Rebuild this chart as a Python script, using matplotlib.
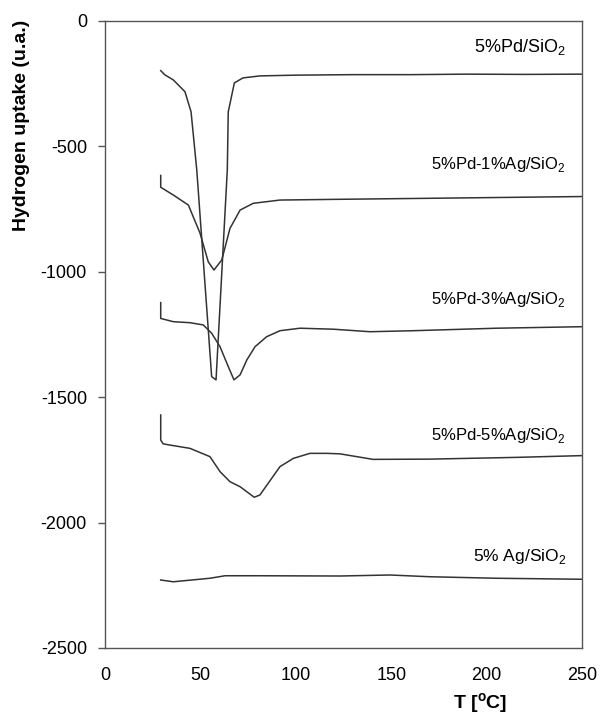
import matplotlib
matplotlib.use("Agg")
import matplotlib.pyplot as plt

plt.rcParams.update({
    "font.family": ["Liberation Sans", "DejaVu Sans"],
    "mathtext.fontset": "custom",
    "mathtext.rm": "Liberation Sans",
    "axes.unicode_minus": False,
    "font.size": 12,
})

LINHA = "#333333"
EIXO = "#555555"

# curvas TPR (T em oC, consumo de H2 em u.a.)
t_pd = [29.2, 31.4, 35.8, 41.9, 45.1, 48.1, 55.9, 58.2, 64.1, 64.6, 67.8, 72.3, 81.2, 100, 130, 160, 190, 220, 250]
v_pd = [-198, -215, -235, -282, -362, -594, -1418, -1431, -594, -362, -247, -227, -219, -216, -214, -214, -212, -213, -212]

t_ag1 = [29.2, 29.2, 35.8, 43.7, 49.8, 54.1, 57.1, 61.2, 65.5, 70.8, 77.7, 91.7, 123, 170, 250]
v_ag1 = [-616, -663, -694, -734, -846, -960, -993, -953, -827, -754, -727, -714, -711, -707, -700]

t_ag3 = [29.2, 29.2, 35.8, 44.5, 51.5, 55.9, 60.3, 64.6, 67.6, 70.8, 74.3, 78.6, 84.7, 91.7, 102.2, 119.7, 138.9, 161.4, 205.3, 250]
v_ag3 = [-1123, -1186, -1199, -1203, -1212, -1245, -1299, -1378, -1431, -1411, -1352, -1299, -1259, -1235, -1225, -1229, -1239, -1235, -1225, -1219]

t_ag5 = [29.2, 29.2, 30.5, 34.1, 44.5, 55, 60.3, 65.5, 70.8, 78.2, 81.2, 87.4, 91.7, 98.7, 107.4, 116.2, 123.2, 140.5, 170.3, 215.8, 250]
v_ag5 = [-1571, -1671, -1686, -1691, -1704, -1737, -1797, -1837, -1857, -1899, -1890, -1823, -1777, -1744, -1724, -1724, -1726, -1748, -1747, -1740, -1733]

t_ag = [29.2, 35.8, 55, 62.9, 79.5, 123.2, 149.4, 170.3, 205.3, 250]
v_ag = [-2229, -2236, -2222, -2212, -2212, -2213, -2209, -2216, -2222, -2226]

rotulos = [
    "5%Pd/SiO$_\\mathregular{2}$",
    "5%Pd-1%Ag/SiO$_\\mathregular{2}$",
    "5%Pd-3%Ag/SiO$_\\mathregular{2}$",
    "5%Pd-5%Ag/SiO$_\\mathregular{2}$",
    "5% Ag/SiO$_\\mathregular{2}$",
]
pos_rotulos = [-104, -574, -1112, -1651, -2137]
tam_rotulos = [13, 12, 12, 12, 12.5]

fig = plt.figure(figsize=(6, 7.16), dpi=100)
ax = fig.add_axes([0.175, 0.095, 0.795, 0.8757])

for t, v in [(t_pd, v_pd), (t_ag1, v_ag1), (t_ag3, v_ag3), (t_ag5, v_ag5), (t_ag, v_ag)]:
    ax.plot(t, v, color=LINHA, linewidth=1.1)

for texto, y, tam in zip(rotulos, pos_rotulos, tam_rotulos):
    ax.text(241.6, y, texto, ha="right", va="center", fontsize=tam)

ax.set_xlim(0, 250)
ax.set_ylim(-2500, 0)
ax.set_xticks(range(0, 251, 50))
ax.set_yticks(range(-2500, 1, 500))
ax.tick_params(axis="y", direction="out", length=5, width=1, color=EIXO, pad=8, labelsize=13)
ax.tick_params(axis="x", length=0, pad=14, labelsize=13)
for s in ax.spines.values():
    s.set_color(EIXO)
    s.set_linewidth(1)

ax.set_ylabel("Hydrogen uptake (u.a.)", fontsize=14, fontweight="bold")
ax.yaxis.set_label_coords(-0.157, 0.834)
ax.set_xlabel("T [$^\\mathregular{o}$C]", fontsize=14, fontweight="bold", va="center")
ax.xaxis.set_label_coords(0.786, -0.088)

fig.savefig("out.png", dpi=100)
plt.close(fig)
